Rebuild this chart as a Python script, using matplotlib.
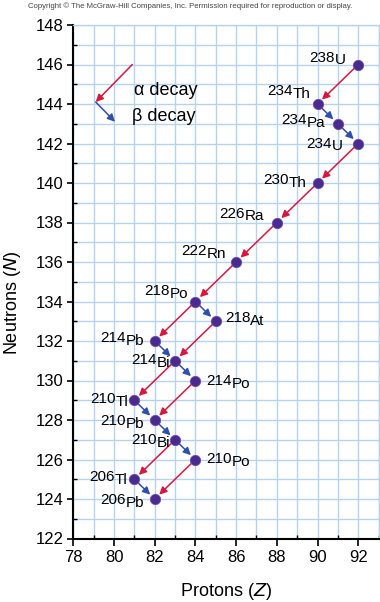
import matplotlib.pyplot as plt
from matplotlib.ticker import MultipleLocator

plt.rcParams['font.family'] = ['Liberation Sans', 'DejaVu Sans']

# nuclides of the U-238 decay series
symbols = ['U', 'Th', 'Pa', 'U', 'Th', 'Ra', 'Rn', 'Po', 'At',
           'Pb', 'Bi', 'Po', 'Tl', 'Pb', 'Bi', 'Po', 'Tl', 'Pb']
mass = [238, 234, 234, 234, 230, 226, 222, 218, 218,
        214, 214, 214, 210, 210, 210, 210, 206, 206]
protons = [92, 90, 91, 92, 90, 88, 86, 84, 85,
           82, 83, 84, 81, 82, 83, 84, 81, 82]
neutrons = [146, 144, 143, 142, 140, 138, 136, 134, 133,
            132, 131, 130, 129, 128, 127, 126, 125, 124]

# decays as (parent index, daughter index)
alpha_decays = [(0, 1), (3, 4), (4, 5), (5, 6), (6, 7), (7, 9),
                (8, 10), (10, 12), (11, 13), (14, 16), (15, 17)]
beta_decays = [(1, 2), (2, 3), (7, 8), (9, 10), (10, 11),
               (12, 13), (13, 14), (14, 15), (16, 17)]

x_ticks = list(range(78, 93, 2))
y_ticks = list(range(122, 149, 2))

# label placement in pixels from the marker: (dx, dy, side)
label_layout = [(-12, 4, 'left'), (-7, 10, 'left'), (-13, 1, 'left'),
                (-15, -3, 'left'), (-11, 0, 'left'), (-13, 6, 'left'),
                (-10, 8, 'left'), (-7, 8, 'left'), (9, 0, 'right'),
                (-10, 0, 'left'), (-5, -2, 'left'), (11, -3, 'right'),
                (-6, -2, 'left'), (-10, -4, 'left'), (-5, -3, 'left'),
                (11, -2, 'right'), (-7, -1, 'left'), (-10, -4, 'left')]

RED = '#d8173f'
BLUE = '#2f4fae'
GRID = '#b5d3ef'
DOT = '#4b2a8e'
PX = 0.72  # points per pixel at dpi 100
RAISE = 2

fig = plt.figure(figsize=(3.8, 6.02), dpi=100)
ax = fig.add_axes([73.3 / 380, 63.5 / 602, 305.3 / 380, 513.5 / 602])

ax.set_xlim(78, 93)
ax.set_ylim(122, 148)
ax.set_xticks(x_ticks)
ax.set_yticks(y_ticks)
ax.xaxis.set_minor_locator(MultipleLocator(1))
ax.yaxis.set_minor_locator(MultipleLocator(1))
ax.grid(which='both', color=GRID, lw=1.0)
ax.set_axisbelow(True)

for s in ['top', 'right']:
    ax.spines[s].set_color(GRID)
    ax.spines[s].set_linewidth(1.0)
for s in ['left', 'bottom']:
    ax.spines[s].set_linewidth(1.5)

ax.tick_params(which='major', direction='out', length=4, width=1.2, labelsize=12, pad=3)
ax.tick_params(axis='x', which='major', length=5)
ax.tick_params(which='minor', direction='in', length=3, width=1.0)

ax.set_xlabel('Protons ($Z$)', fontsize=13, labelpad=12)
ax.set_ylabel('Neutrons ($N$)', fontsize=13)
ax.yaxis.set_label_coords(-0.166, 0.459)


def arrow(p0, p1, color, sa=3, sb=4.5):
    ax.annotate('', xy=p1, xytext=p0,
                arrowprops=dict(arrowstyle='-|>', color=color, lw=1.1,
                                shrinkA=sa, shrinkB=sb, mutation_scale=11))


for a, b in alpha_decays:
    arrow((protons[a], neutrons[a]), (protons[b], neutrons[b]), RED)
for a, b in beta_decays:
    arrow((protons[a], neutrons[a]), (protons[b], neutrons[b]), BLUE)

ax.scatter(protons, neutrons, s=55, color=DOT, edgecolors='#6a4bb0',
           linewidths=0.6, zorder=5)

for i, (dx, dy, side) in enumerate(label_layout):
    xy = (protons[i], neutrons[i])
    if side == 'left':
        sym = ax.annotate(symbols[i], xy, xytext=(dx * PX, dy * PX),
                          textcoords='offset points', ha='right', va='center',
                          fontsize=11)
        ax.annotate(str(mass[i]), xy=(0, 0), xycoords=sym, xytext=(0, RAISE),
                    textcoords='offset points', ha='right', va='bottom',
                    fontsize=11)
    else:
        num = ax.annotate(str(mass[i]), xy, xytext=(dx * PX, dy * PX + RAISE),
                          textcoords='offset points', ha='left', va='center',
                          fontsize=11)
        ax.annotate(symbols[i], xy=(1, 0), xycoords=num, xytext=(0, -RAISE),
                    textcoords='offset points', ha='left', va='bottom',
                    fontsize=11)

# legend
arrow((80.9, 146.0), (79.1, 144.1), RED, sa=0, sb=0)
arrow((79.1, 144.1), (80.05, 143.1), BLUE, sa=0, sb=0)
ax.text(81.0, 144.7, 'α decay', fontsize=13, va='center', ha='left')
ax.text(80.9, 143.35, 'β decay', fontsize=13, va='center', ha='left')

fig.text(0.5, 1 - 6 / 602,
         'Copyright © The McGraw-Hill Companies, Inc. Permission required for reproduction or display.',
         fontsize=5.6, color='#444444', ha='center', va='center')

plt.savefig('out.png', dpi=100)
